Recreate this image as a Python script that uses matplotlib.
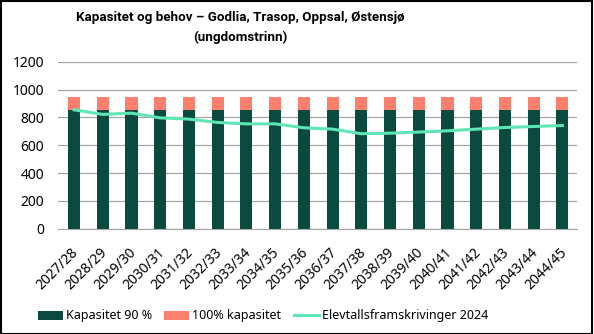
import matplotlib
matplotlib.use("Agg")
import matplotlib.pyplot as plt
import matplotlib.transforms as mtransforms
from matplotlib.patches import Rectangle

categories = ["2027/28", "2028/29", "2029/30", "2030/31", "2031/32", "2032/33",
              "2033/34", "2034/35", "2035/36", "2036/37", "2037/38", "2038/39",
              "2039/40", "2040/41", "2041/42", "2042/43", "2043/44", "2044/45"]
kap90 = [855] * 18
kap100_extra = [95] * 18
elevtall = [855, 822, 831, 797, 788, 764, 754, 754, 726, 716, 683, 687,
            695, 704, 716, 728, 735, 742]
yticks = [0, 200, 400, 600, 800, 1000, 1200]

dark = "#0b4a3e"
pink = "#fe7f6e"
mint = "#5ee6b4"

plt.rcParams['font.family'] = ['Noto Sans', 'DejaVu Sans']

W, H = 594, 334
fig = plt.figure(figsize=(W / 100, H / 100), dpi=100)
ax = fig.add_axes([0.098, 0.315, 0.873, 0.50])

x = list(range(len(categories)))
b1 = ax.bar(x, kap90, width=0.42, color=dark, label="Kapasitet 90 %", zorder=2)
b2 = ax.bar(x, kap100_extra, width=0.42, bottom=kap90, color=pink, label="100% kapasitet", zorder=2)
l1, = ax.plot(x, elevtall, color=mint, linewidth=2.2, label="Elevtallsframskrivinger 2024", zorder=3)

ax.set_ylim(0, 1200)
ax.set_yticks(yticks)
ax.set_xlim(-0.55, len(categories) - 0.5)
ax.set_xticks(x)
ax.set_xticklabels(categories, rotation=45, ha="right", rotation_mode="anchor", fontsize=10)
ax.tick_params(axis='y', labelsize=10, length=0, pad=10)
ax.tick_params(axis='x', length=0, pad=12)
shift = mtransforms.ScaledTranslation(-3 / 100, 0, fig.dpi_scale_trans)
for lab in ax.get_xticklabels():
    lab.set_transform(lab.get_transform() + shift)
ax.grid(axis='y', color="#a6a6a6", linewidth=0.9, zorder=0)
for s in ["top", "right", "left"]:
    ax.spines[s].set_visible(False)
ax.spines["bottom"].set_color("#a6a6a6")
ax.set_axisbelow(True)

tfam = ["Roboto", "DejaVu Sans"]
t1 = fig.text(240 / W, 1 - 18 / H, "Kapasitet og behov – Godlia, Trasop, Oppsal, Østensjø",
              ha="center", va="center", fontsize=11, fontweight="bold", family=tfam)
t2 = fig.text(240 / W, 1 - 37 / H, "(ungdomstrinn)", ha="center", va="center",
              fontsize=11, fontweight="bold", family=tfam)
fig.canvas.draw()
wpx = t1.get_window_extent().width
fs = 11 * 326 / wpx
t1.set_fontsize(fs)
t2.set_fontsize(fs)

fig.legend(handles=[b1, b2, l1], loc="center", bbox_to_anchor=(263 / W, 1 - 316 / H), ncol=3,
           frameon=False, fontsize=9, handlelength=2.0, handleheight=0.7, columnspacing=1.0,
           handletextpad=0.25)

fig.patches.append(Rectangle((0.001, 0.001), 0.996, 0.996, transform=fig.transFigure,
                             fill=False, edgecolor="black", linewidth=1.5))

fig.savefig("out.png", dpi=100)
